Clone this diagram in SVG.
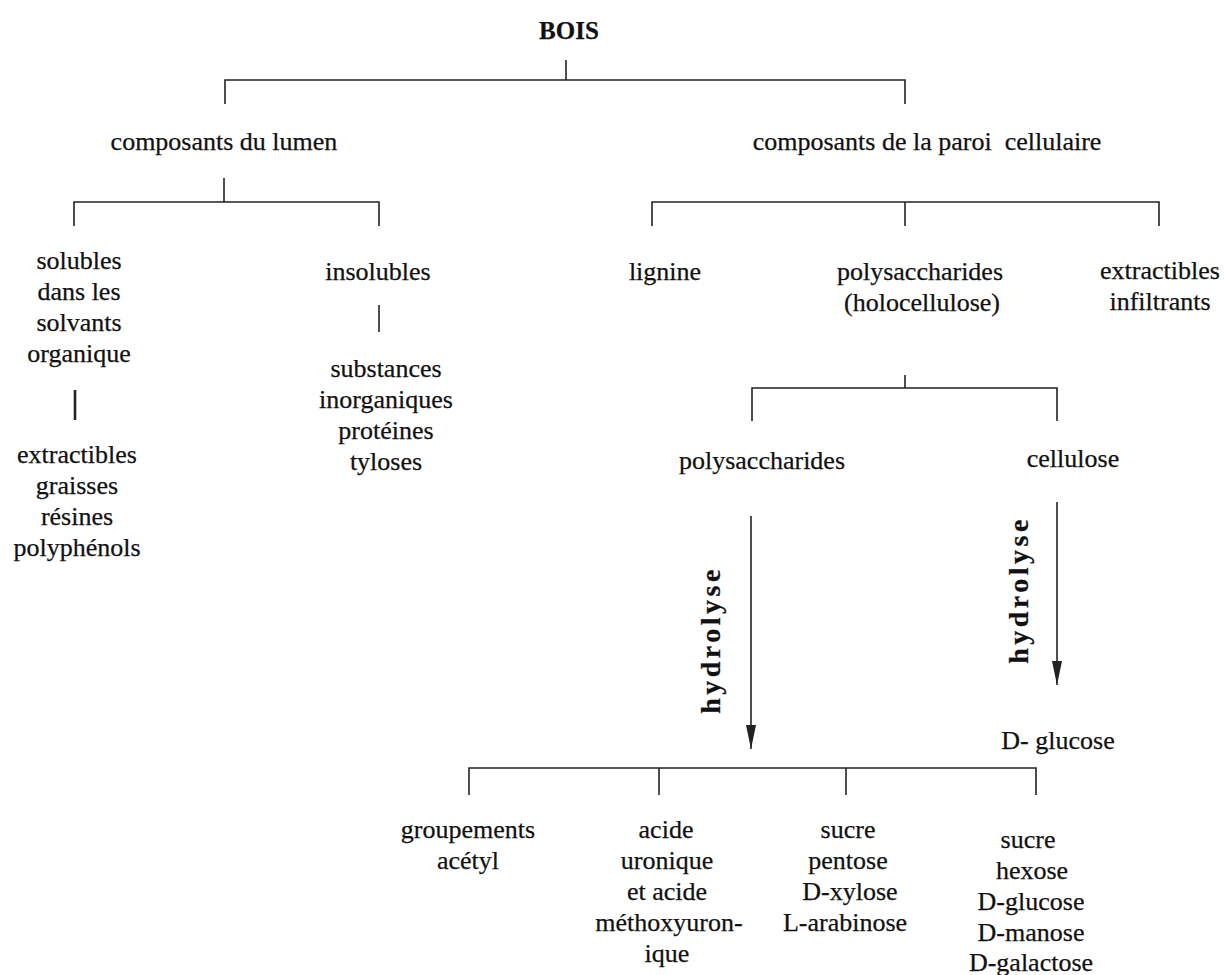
<svg xmlns="http://www.w3.org/2000/svg" width="1224" height="975" viewBox="0 0 1224 975">
<defs>
<style>
text{font-family:"Liberation Serif","Times New Roman",serif;font-size:26px;fill:#111;text-anchor:middle;stroke:#111;stroke-width:0.25}
.b{font-weight:bold;font-size:25px}
.h{font-weight:bold;font-size:28px;letter-spacing:3.5px}
.c line,.c path{stroke:#222;stroke-width:1.6;fill:none}
.c .t{stroke-width:2.6}
</style>
<marker id="ah" viewBox="0 0 24 12" refX="24" refY="6" markerWidth="24" markerHeight="12" markerUnits="userSpaceOnUse" orient="auto">
<path d="M0,1 L24,6 L0,11 Z" fill="#222" stroke="none"/>
</marker>
</defs>
<rect width="1224" height="975" fill="#fff"/>
<g id="connectors" class="c">
<line x1="566" y1="60" x2="566" y2="80"/>
<path d="M225,104 V80 H905 V104"/>
<line x1="224" y1="178" x2="224" y2="202"/>
<path d="M74,226 V202 H379 V226"/>
<path d="M652,226 V202 H1159 V226"/>
<line x1="905" y1="202" x2="905" y2="226"/>
<line class="t" x1="75" y1="390" x2="75" y2="420"/>
<line x1="379" y1="305" x2="379" y2="332"/>
<line x1="905" y1="375" x2="905" y2="388"/>
<path d="M752,421 V388 H1057 V421"/>
<line x1="751" y1="516" x2="751" y2="749" marker-end="url(#ah)"/>
<line x1="1057" y1="502" x2="1057" y2="685" marker-end="url(#ah)"/>
<path d="M469,795 V768 H1036 V795"/>
<line x1="659" y1="768" x2="659" y2="795"/>
<line x1="846" y1="768" x2="846" y2="795"/>
</g>
<g id="n-bois"><text class="b" x="569" y="39">BOIS</text></g>
<g id="n-lumen"><text x="224" y="150">composants du lumen</text></g>
<g id="n-paroi"><text x="927" y="150" xml:space="preserve">composants de la paroi  cellulaire</text></g>
<g id="n-solubles"><text><tspan x="79" y="269">solubles</tspan><tspan x="79" y="300">dans les</tspan><tspan x="79" y="331">solvants</tspan><tspan x="79" y="362">organique</tspan></text></g>
<g id="n-extractibles"><text><tspan x="77" y="463">extractibles</tspan><tspan x="77" y="494">graisses</tspan><tspan x="77" y="525">résines</tspan><tspan x="77" y="556">polyphénols</tspan></text></g>
<g id="n-insolubles"><text x="378" y="280">insolubles</text></g>
<g id="n-substances"><text><tspan x="386" y="377">substances</tspan><tspan x="386" y="408">inorganiques</tspan><tspan x="386" y="439">protéines</tspan><tspan x="386" y="470">tyloses</tspan></text></g>
<g id="n-lignine"><text x="665" y="280">lignine</text></g>
<g id="n-holo"><text><tspan x="920" y="280">polysaccharides</tspan><tspan x="922" y="311">(holocellulose)</tspan></text></g>
<g id="n-infiltrants"><text><tspan x="1160" y="279">extractibles</tspan><tspan x="1160" y="310">infiltrants</tspan></text></g>
<g id="n-polysacch"><text x="762" y="469">polysaccharides</text></g>
<g id="n-cellulose"><text x="1073" y="467">cellulose</text></g>
<g id="n-hydro1"><text class="h" transform="translate(720,640) rotate(-90)">hydrolyse</text></g>
<g id="n-hydro2"><text class="h" transform="translate(1028,590) rotate(-90)">hydrolyse</text></g>
<g id="n-dglucose"><text x="1058" y="749">D- glucose</text></g>
<g id="n-acetyl"><text><tspan x="468" y="838">groupements</tspan><tspan x="468" y="869">acétyl</tspan></text></g>
<g id="n-uronique"><text><tspan x="666" y="838">acide</tspan><tspan x="667" y="869">uronique</tspan><tspan x="667" y="900">et acide</tspan><tspan x="669" y="931">méthoxyuron-</tspan><tspan x="667" y="962">ique</tspan></text></g>
<g id="n-pentose"><text><tspan x="848" y="838">sucre</tspan><tspan x="848" y="869">pentose</tspan><tspan x="850" y="900">D-xylose</tspan><tspan x="845" y="931">L-arabinose</tspan></text></g>
<g id="n-hexose"><text><tspan x="1028" y="848">sucre</tspan><tspan x="1032" y="879">hexose</tspan><tspan x="1031" y="910">D-glucose</tspan><tspan x="1031" y="941">D-manose</tspan><tspan x="1031" y="971">D-galactose</tspan></text></g>
</svg>
